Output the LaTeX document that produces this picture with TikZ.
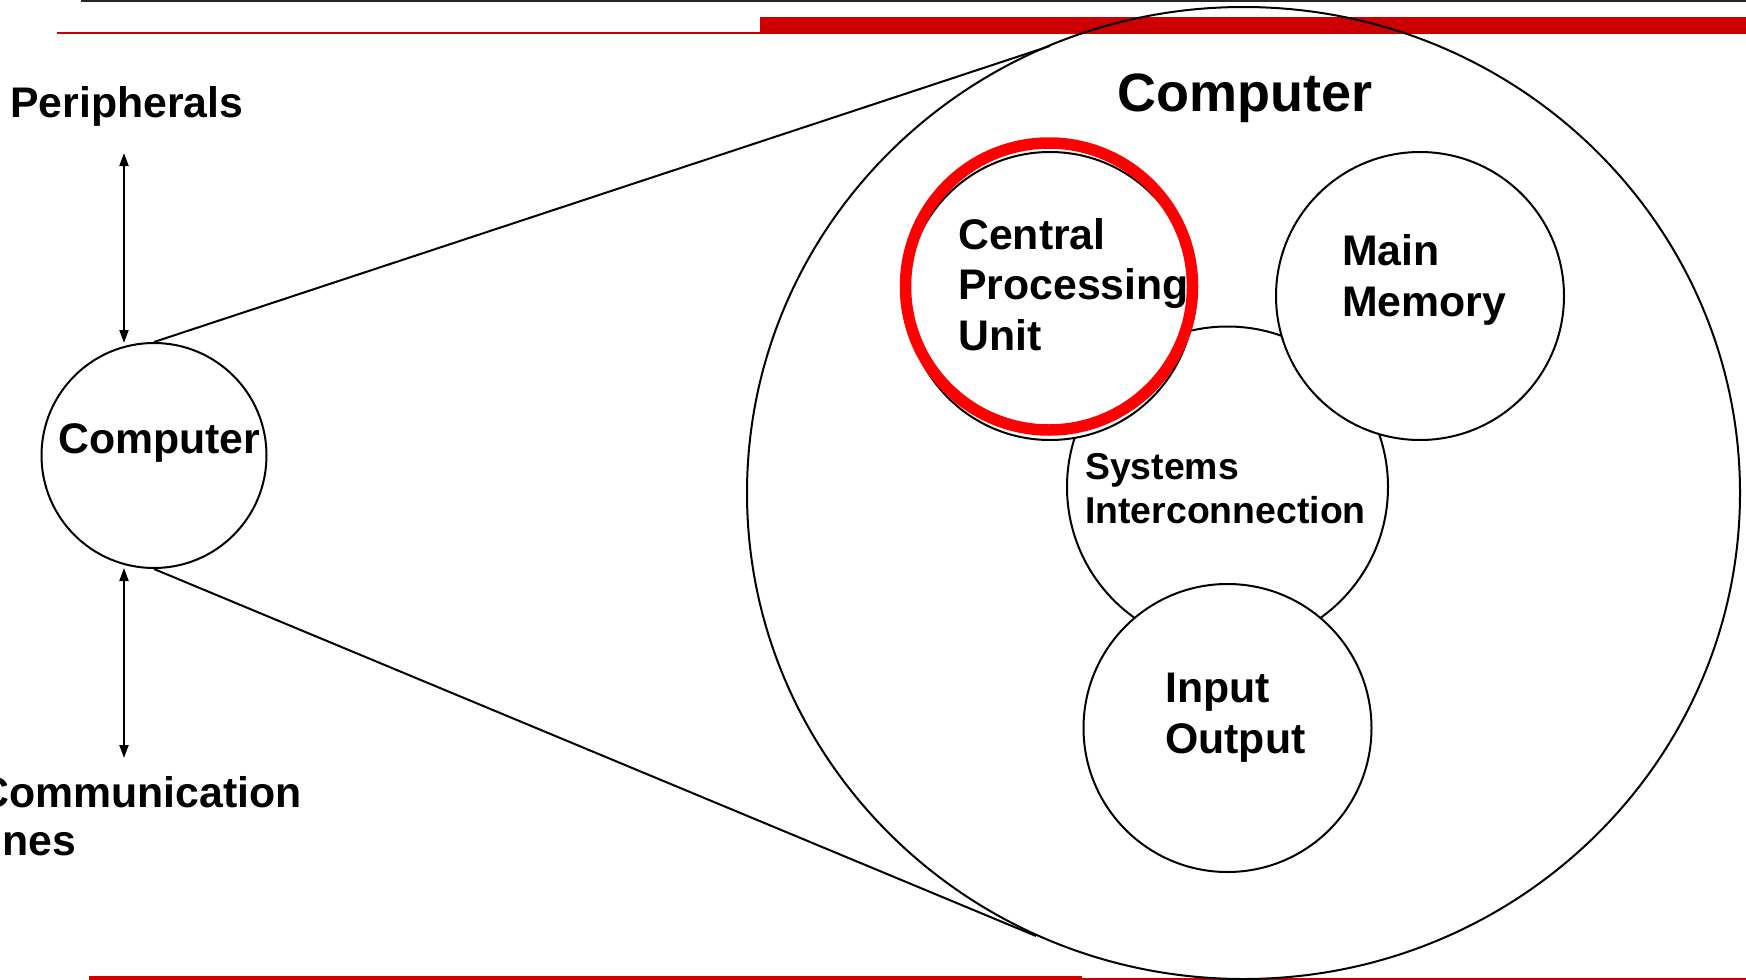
\documentclass[tikz,border=0pt]{standalone}
\usepackage{fontspec}
\setmainfont{Liberation Sans}
\usetikzlibrary{arrows.meta,shapes.geometric}
\definecolor{barred}{RGB}{204,0,0}
\definecolor{ringred}{RGB}{255,0,0}
\begin{document}
\begin{tikzpicture}[x=1pt,y=-1pt,
  unit/.style={circle,draw,line width=2pt,fill=white,minimum size=288pt,inner sep=0pt},
  lbl/.style={anchor=base west,inner sep=0pt,align=left,font=\fontsize{42.8}{50.5}\selectfont\bfseries},
  arr/.style={{Triangle[length=13pt,width=9pt]}-{Triangle[length=13pt,width=9pt]},line width=2pt},
  link/.style={line width=2pt}]
\useasboundingbox (0,0) rectangle (1746,980);
% decorative bars
\fill[black!85] (81,0) rectangle (1746,1.6);
\fill[barred] (57,32) rectangle (760,34);
\fill[barred] (760,17) rectangle (1746,33.5);
\fill[barred] (89,976) rectangle (1082,980);
\fill[barred] (1082,978) rectangle (1746,980);
% big computer
\node[ellipse,draw,line width=2pt,minimum width=993pt,minimum height=972pt,inner sep=0pt] (big) at (1243.5,493) {};
\coordinate (zt) at (1050,46);
\coordinate (zb) at (1036,936);
% small computer
\node[circle,draw,line width=2pt,minimum size=225pt,inner sep=0pt] (comp) at (154,455.5) {};
\draw[link] (comp.north) -- (zt);
\draw[link] (comp.south) -- (zb);
\coordinate (pa) at (124,153);
\coordinate (pb) at (124,343);
\coordinate (ca) at (124,568);
\coordinate (cb) at (124,758);
\draw[arr] (pa) -- (pb);
\draw[arr] (ca) -- (cb);
% inner units
\node[circle,draw,line width=2pt,minimum size=321pt,inner sep=0pt] (si) at (1227.5,487) {};
\node[unit] (cpu) at (1050,296) {};
\node[unit] (mm) at (1420,296) {};
\node[unit] (io) at (1227.5,728) {};
\draw[ringred,line width=11.5pt] (1049,286.5) circle[radius=143.5];
% texts (anchor = baseline of the last line)
\node[lbl] (tper) at (10,117) {Peripherals};
\node[lbl,font=\fontsize{42.8}{48}\selectfont\bfseries] (tcom) at (-36,855) {\hspace*{14pt}Communication\\Lines};
\node[lbl] (tcomp) at (58,453) {Computer};
\node[lbl,font=\fontsize{54}{60}\selectfont\bfseries] (tbig) at (1117,111) {Computer};
\node[lbl] (tcpu) at (958,350) {Central\\Processing\\Unit};
\node[lbl] (tmm) at (1342,316) {Main\\Memory};
\node[lbl,font=\fontsize{37.4}{44}\selectfont\bfseries] (tsi) at (1085,523) {Systems\\Interconnection};
\node[lbl] (tio) at (1165,753) {Input\\Output};
\end{tikzpicture}
\end{document}
